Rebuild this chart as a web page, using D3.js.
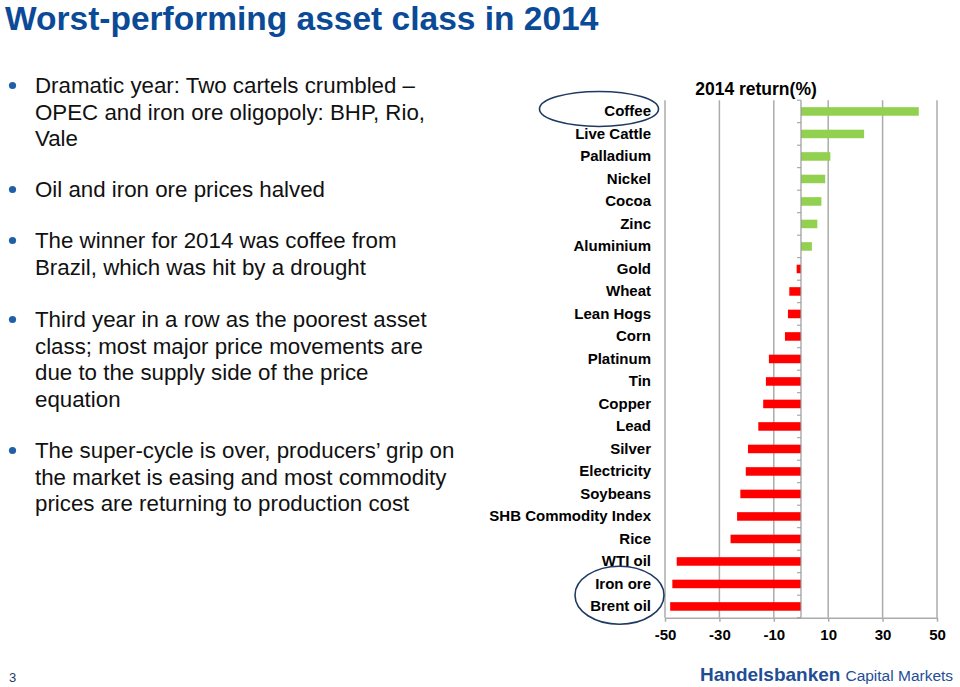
<!DOCTYPE html>
<html>
<head>
<meta charset="utf-8">
<script src="https://cdn.jsdelivr.net/npm/d3@7"></script>
<style>
  html, body { margin: 0; padding: 0; background: #fff; }
  svg { display: block; font-family: "Liberation Sans", Arial, sans-serif; }
</style>
</head>
<body>
<svg id="chart" width="960" height="687"></svg>
<script>
const titleText = "Worst-performing asset class in 2014";
const chartTitle = "2014 return(%)";
const categories = ["Coffee","Live Cattle","Palladium","Nickel","Cocoa","Zinc","Aluminium","Gold","Wheat","Lean Hogs","Corn","Platinum","Tin","Copper","Lead","Silver","Electricity","Soybeans","SHB Commodity Index","Rice","WTI oil","Iron ore","Brent oil"];
const returns2014 = [43.3, 23.2, 10.8, 8.9, 7.5, 6.0, 4.0, -1.6, -4.3, -4.8, -5.9, -11.8, -12.9, -13.9, -15.7, -19.5, -20.3, -22.3, -23.5, -25.9, -45.7, -47.3, -48.1];
const xTickValues = [-50, -30, -10, 10, 30, 50];
const circledTop = ["Coffee"];
const circledBottom = ["Iron ore", "Brent oil"];
const bullets = [
  ["Dramatic year: Two cartels crumbled \u2013", "OPEC and iron ore oligopoly: BHP, Rio,", "Vale"],
  ["Oil and iron ore prices halved"],
  ["The winner for 2014 was coffee from", "Brazil, which was hit by a drought"],
  ["Third year in a row as the poorest asset", "class; most major price movements are", "due to the supply side of the price", "equation"],
  ["The super-cycle is over, producers\u2019 grip on", "the market is easing and most commodity", "prices are returning to production cost"]
];
const bulletTops = [93, 197, 248, 327, 458];

const svg = d3.select("#chart");

// Slide title
svg.append("text").attr("x", 5).attr("y", 30)
  .attr("font-size", 33.5).attr("font-weight", "bold").attr("fill", "#0b4a97")
  .text(titleText);

// Bullets
const lineH = 26.6;
bullets.forEach((lines, i) => {
  const y0 = bulletTops[i];
  svg.append("circle").attr("cx", 12.5).attr("cy", y0 - 7.5).attr("r", 3.6).attr("fill", "#1f5fa8");
  lines.forEach((ln, j) => {
    svg.append("text").attr("x", 35).attr("y", y0 + j * lineH)
      .attr("font-size", 22.3).attr("fill", "#111").text(ln);
  });
});

// Chart
const x = d3.scaleLinear().domain([-50, 50]).range([665, 937]);
const y = d3.scaleBand().domain(categories).range([100.2, 617.7]).paddingInner(0.62).paddingOuter(0.31);
const plotTop = 100.2, plotBottom = 617.7;

// Gridlines
svg.append("g").selectAll("line").data(xTickValues).join("line")
  .attr("x1", d => x(d)).attr("x2", d => x(d))
  .attr("y1", plotTop).attr("y2", plotBottom)
  .attr("stroke", "#ababab").attr("stroke-width", 1.5);

// X axis
const xAxis = svg.append("g").attr("transform", `translate(0,${plotBottom})`)
  .call(d3.axisBottom(x).tickValues(xTickValues).tickFormat(d => String(d))
    .tickSize(4).tickSizeOuter(0).tickPadding(8));
xAxis.select(".domain").attr("stroke", "#ababab").attr("stroke-width", 1.5);
xAxis.selectAll(".tick line").attr("stroke", "#ababab").attr("stroke-width", 1.5);
xAxis.selectAll(".tick text").attr("font-size", 15).attr("font-weight", "bold")
  .attr("fill", "#000").attr("font-family", "Liberation Sans, Arial, sans-serif");

// Bars
svg.append("g").selectAll("rect").data(categories).join("rect")
  .attr("x", (d, i) => x(Math.min(0, returns2014[i])))
  .attr("y", d => y(d))
  .attr("width", (d, i) => Math.abs(x(returns2014[i]) - x(0)))
  .attr("height", y.bandwidth())
  .attr("fill", (d, i) => returns2014[i] >= 0 ? "#92d050" : "#ff0000");

// Category axis line at zero with boundary ticks
const zeroX = x(0);
const step = y.step();
const boundaries = categories.map(d => y(d) - (step - y.bandwidth()) / 2).concat([plotBottom]);
svg.append("line").attr("x1", zeroX).attr("x2", zeroX).attr("y1", plotTop).attr("y2", plotBottom)
  .attr("stroke", "#9a9a9a").attr("stroke-width", 1.2);
svg.append("g").selectAll("line").data(boundaries).join("line")
  .attr("x1", zeroX - 4).attr("x2", zeroX).attr("y1", d => d).attr("y2", d => d)
  .attr("stroke", "#9a9a9a").attr("stroke-width", 1);

// Category labels
const yAxis = svg.append("g").attr("transform", "translate(651,0)")
  .call(d3.axisLeft(y).tickSize(0).tickPadding(0));
yAxis.select(".domain").remove();
yAxis.selectAll(".tick text").attr("font-size", 15).attr("font-weight", "bold")
  .attr("fill", "#000").attr("font-family", "Liberation Sans, Arial, sans-serif");

// Chart title
svg.append("text").attr("x", 756).attr("y", 95).attr("text-anchor", "middle")
  .attr("font-size", 17.5).attr("font-weight", "bold").attr("fill", "#000").text(chartTitle);

// Highlight ellipses
const cTop = y(circledTop[0]) + y.bandwidth() / 2 - 2.5;
svg.append("ellipse").attr("cx", 599).attr("cy", cTop).attr("rx", 59.5).attr("ry", 17.5)
  .attr("fill", "none").attr("stroke", "#1f3a62").attr("stroke-width", 1.6);
const cBot = (y(circledBottom[0]) + y(circledBottom[1])) / 2 + y.bandwidth() / 2;
svg.append("ellipse").attr("cx", 619.5).attr("cy", cBot).attr("rx", 44.5).attr("ry", 29)
  .attr("fill", "none").attr("stroke", "#1f3a62").attr("stroke-width", 1.6);

// Footer
svg.append("text").attr("x", 9).attr("y", 682).attr("font-size", 13).attr("fill", "#1f3864").text("3");
const logo = svg.append("text").attr("x", 700).attr("y", 680.5).attr("fill", "#1f4e96");
logo.append("tspan").attr("font-size", 19).attr("font-weight", "bold").text("Handelsbanken");
logo.append("tspan").attr("font-size", 15.5).attr("dx", 5).text("Capital Markets");
</script>
</body>
</html>
